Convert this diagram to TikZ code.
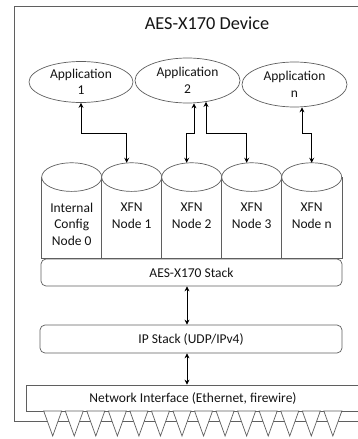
\documentclass[tikz,border=0pt]{standalone}
\usepackage{fontspec}
\setmainfont{Carlito}
\usetikzlibrary{shapes.geometric,arrows.meta}
\definecolor{lineg}{RGB}{95,95,95}
\definecolor{txt}{RGB}{20,20,20}
\begin{document}
\begin{tikzpicture}[x=1pt,y=-1pt,
  every node/.style={font=\fontsize{13.5}{16.5}\selectfont, text=txt},
  app/.style={ellipse, draw=lineg, fill=white, line width=0.7pt, align=center, inner sep=-3pt},
  bar/.style={draw=lineg, fill=white, line width=0.7pt, rounded corners=5pt, inner sep=0pt, minimum width=301pt, minimum height=27pt},
  cylframe/.style={inner sep=0pt, minimum width=60pt, minimum height=95pt},
  shapeline/.style={draw=lineg, fill=white, line width=0.7pt},
  conn/.style={>={Stealth[length=5pt,width=5pt]}, <->, line width=0.8pt, black},
  lbl/.style={align=center, inner sep=0pt}
]
\useasboundingbox (0,0) rectangle (357,439);
% outer frame
\node[draw=lineg, line width=0.8pt, minimum width=356pt, minimum height=415pt, inner sep=0pt, anchor=north west] (frame) at (14,6) {};
\node[font=\fontsize{18.3}{22}\selectfont] (title) at (207,23) {AES-X170 Device};
% applications
\node[app, minimum width=104pt, minimum height=41pt] (a1) at (81,82) {Application\\1};
\node[app, minimum width=105pt, minimum height=45pt] (a2) at (187.5,80.5) {Application\\2};
\node[app, minimum width=105pt, minimum height=45pt] (an) at (294.5,84.5) {Application\\n};
% cylinders
\foreach \n/\x in {c0/71.7, c1/131.7, c2/191.7, c3/251.7, cn/311.7} {
  \node[cylframe] (\n) at (\x,210.5) {};
  \path[fill=white] ([yshift=-14.3pt]\n.north west) rectangle (\n.south east);
  \draw[lineg, line width=0.7pt] ([yshift=-14.3pt]\n.north west) -- (\n.south west) -- (\n.south east) -- ([yshift=-14.3pt]\n.north east);
  \draw[shapeline] ([yshift=-14.3pt]\n.north) ellipse [x radius=30pt, y radius=14.3pt];
}
\node[lbl] (t0) at (71.7,224) {Internal\\Config\\Node 0};
\node[lbl] (t1) at (131.7,215.5) {XFN\\Node 1};
\node[lbl] (t2) at (191.7,215.5) {XFN\\Node 2};
\node[lbl] (t3) at (251.7,215.5) {XFN\\Node 3};
\node[lbl] (tn) at (311.7,215.5) {XFN\\Node n};
% stacks
\node[bar] (st) at (191.5,272.5) {AES-X170 Stack};
\node[bar, minimum width=302pt, minimum height=28pt] (ip) at (191,339) {IP Stack (UDP/IPv4)};
\node[draw=lineg, fill=white, line width=0.7pt, minimum width=334pt, minimum height=26pt, inner sep=0pt] (net) at (193,398) {Network Interface (Ethernet, firewire)};
% connector teeth
\foreach \i in {0,...,13} {
  \draw[shapeline] ({52.7+21.55*\i-9},411) -- ({52.7+21.55*\i},436) -- ({52.7+21.55*\i+9},411) -- cycle;
}
% connectors
\draw[conn] (a1.south) -- ++(0,31) -| ([xshift=-5pt]c1.north);
\draw[conn] ([xshift=6.5pt]a2.south) -- ++(0,30) -| ([xshift=-5pt]c2.north);
\draw[conn] ([xshift=18.5pt,yshift=1.4pt]a2.south) -- ++(0,31.4) -| ([xshift=-5pt]c3.north);
\draw[conn] ([xshift=7.5pt]an.south) -- ++(0,26) -| (cn.north);
\draw[conn] ([xshift=-4.5pt]st.south) -- ([xshift=-4.5pt]st.south |- ip.north);
\draw[conn] ([xshift=-4.5pt]st.south |- ip.south) -- ([xshift=-4.5pt]st.south |- net.north);
\end{tikzpicture}
\end{document}
